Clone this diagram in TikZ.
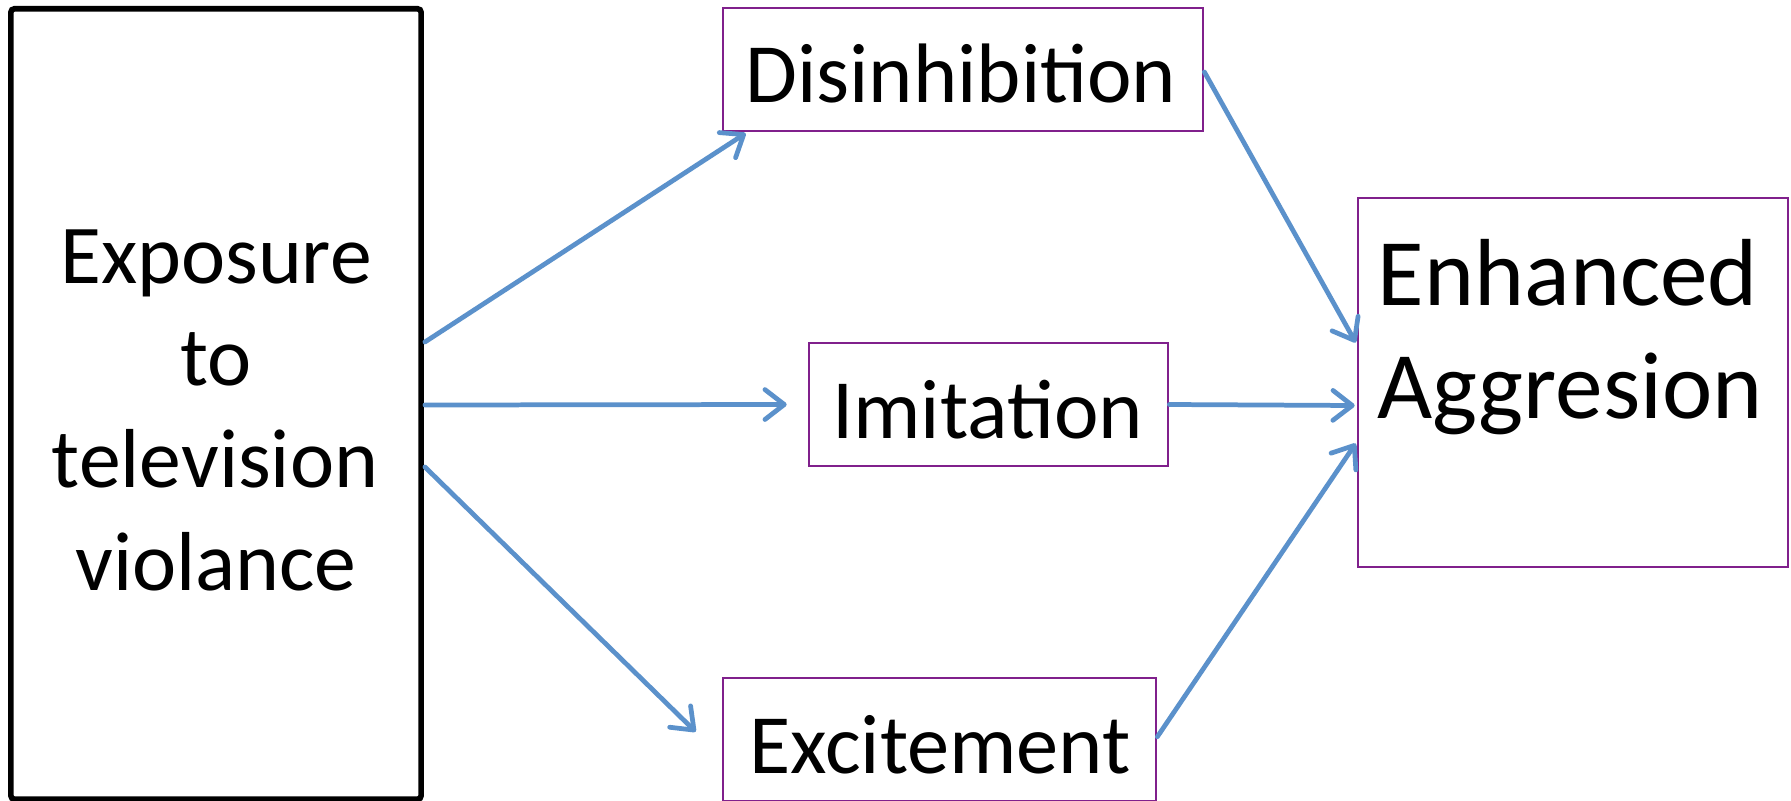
\documentclass[tikz,border=0pt]{standalone}
\usepackage{fontspec}
\setmainfont{Carlito}
\usetikzlibrary{arrows.meta,calc}
\definecolor{boxpurple}{RGB}{128,32,140}
\definecolor{arrowblue}{RGB}{91,145,203}
\tikzset{
  frame/.style={draw=boxpurple, line width=0.7pt, inner sep=0pt},
  bigframe/.style={draw=black, line width=1.6pt, rounded corners=1pt, inner sep=0pt},
  lbl/.style={anchor=base, inner sep=0pt, font=\fontsize{24.0}{28}\selectfont},
  leftlbl/.style={anchor=base, inner sep=0pt, font=\fontsize{23.8}{28}\selectfont},
  biglbl/.style={anchor=base, inner sep=0pt, font=\fontsize{27.1}{33}\selectfont},
  flow/.style={draw=arrowblue, line width=1.35pt, line cap=round,
    -{Straight Barb[length=5.5pt,width=8.5pt,round]}},
}
\begin{document}
\begin{tikzpicture}[x=0.01cm,y=-0.01cm]
\useasboundingbox (0,0) rectangle (1791,800);
\fill[white] (0,0) rectangle (1791,800);
\clip (0,0) rectangle (1791,800);

% boxes
\node[bigframe, minimum width=4.10cm, minimum height=7.90cm] (expo) at (216,404) {};
\node[frame, minimum width=4.80cm, minimum height=1.23cm] (dis) at (963,69.5) {};
\node[frame, minimum width=3.59cm, minimum height=1.23cm] (imi) at (988.5,404.5) {};
\node[frame, minimum width=4.33cm, minimum height=1.23cm] (exc) at (939.5,739.5) {};
\node[frame, minimum width=4.30cm, minimum height=3.69cm] (enh) at (1573,382.5) {};

% texts
\node[leftlbl] (t1) at (216,283) {Exposure};
\node[leftlbl] (t2) at (216,385) {to};
\node[leftlbl] (t3) at (215,487) {television};
\node[leftlbl] (t4) at (216,590) {violance};
\node[lbl] (tdis) at (961,102) {Disinhibition};
\node[lbl] (timi) at (987.5,438) {Imitation};
\node[lbl] (texc) at (940,773) {Excitement};
\node[biglbl] (tenh1) at (1568,305) {Enhanced};
\node[biglbl] (tenh2) at (1570,418) {Aggresion};

% connectors
\draw[flow] ($(expo.east)+(1,-62)$) -- ($(dis.south west)+(24,1)$);
\draw[flow] ($(expo.east)+(1,1)$) -- ($(imi.west)+(-21,0)$);
\draw[flow] ($(expo.east)+(1,63)$) -- ($(exc.north west)+(-26,55)$);
\draw[flow] ($(dis.east)+(0,2.5)$) -- ($(enh.west)+(-1,-40)$);
\draw[flow] (imi.east) -- ($(enh.west)+(-2,23)$);
\draw[flow] ($(exc.north east)+(0,60)$) -- ($(enh.west)+(-1,61)$);
\end{tikzpicture}
\end{document}
